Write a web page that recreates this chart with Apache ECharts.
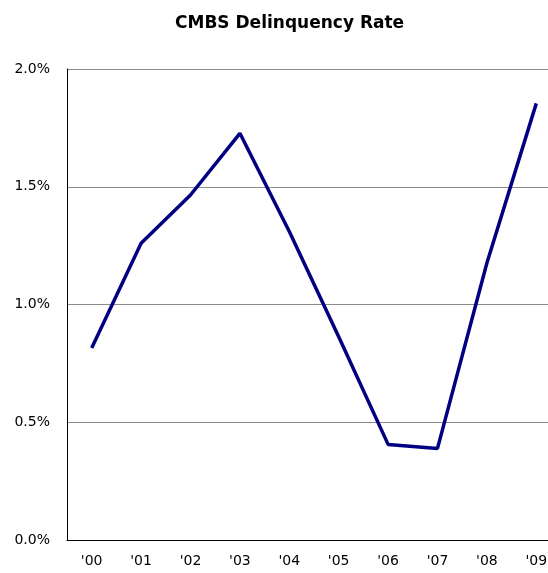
<!DOCTYPE html>
<html>
<head>
<meta charset="utf-8">
<script src="https://cdn.jsdelivr.net/npm/echarts@6/dist/echarts.min.js"></script>
<style>
  html, body { margin: 0; padding: 0; background: #fff; }
  #chart { width: 548px; height: 573px; }
</style>
</head>
<body>
<div id="chart"></div>
<script>
const years = ["'00", "'01", "'02", "'03", "'04", "'05", "'06", "'07", "'08", "'09"]
const delinquencyRate = [0.815, 1.26, 1.465, 1.727, 1.31, 0.863, 0.406, 0.389, 1.176, 1.854]
const chartTitle = 'CMBS Delinquency Rate'

const chart = echarts.init(document.getElementById('chart'), null, { renderer: 'canvas' })

chart.setOption({
  animation: false,
  textStyle: { fontFamily: 'DejaVu Sans' },
  title: {
    text: chartTitle,
    left: 170,
    top: 10,
    textStyle: { fontSize: 17, fontWeight: 'bold', color: '#000', fontFamily: 'DejaVu Sans' },
  },
  grid: {
    left: 67,
    top: 69,
    width: 494,
    bottom: 33,
    containLabel: false,
    outerBoundsMode: 'none',
  },
  xAxis: {
    type: 'category',
    data: years,
    boundaryGap: true,
    axisLine: { show: true, lineStyle: { color: '#000', width: 1 } },
    axisTick: { show: false },
    axisLabel: { color: '#000', fontSize: 14, margin: 14, interval: 0 },
  },
  yAxis: {
    type: 'value',
    min: 0,
    max: 2,
    interval: 0.5,
    axisLine: { show: true, lineStyle: { color: '#000', width: 1 } },
    axisTick: { show: false },
    axisLabel: {
      color: '#000',
      fontSize: 14,
      margin: 17,
      formatter: (v) => v.toFixed(1) + '%',
    },
    splitLine: { show: true, lineStyle: { color: '#8c8c8c', width: 1 } },
  },
  series: [
    {
      name: chartTitle,
      type: 'line',
      data: delinquencyRate,
      showSymbol: false,
      symbol: 'none',
      lineStyle: { color: '#000080', width: 3.5 },
    },
  ],
})
</script>
</body>
</html>
